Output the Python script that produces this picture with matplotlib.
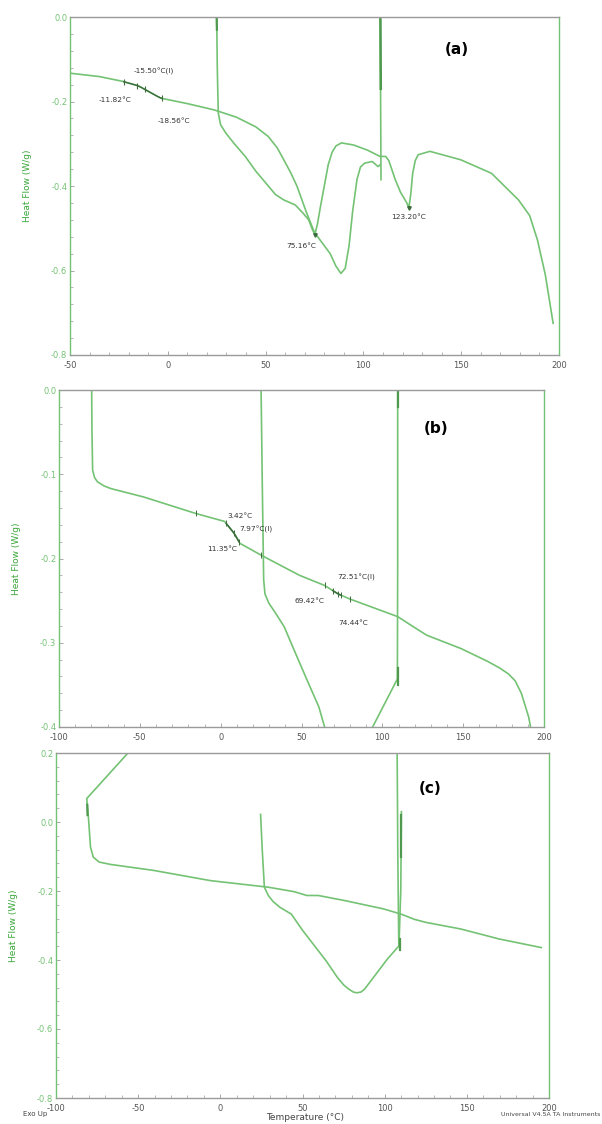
import matplotlib.pyplot as plt
import numpy as np

GREEN = "#74c274"
DARK = "#3d6b3d"
GRAY = "#9a9a9a"

# ---- panel (a) ----
a1_x = [-50, -35, -23.4, -15, -3.7, 10, 23.8, 35, 45, 51.4, 56, 59.3, 63, 66, 71, 75, 79, 83, 86, 88.5, 90.7, 92.7, 94.5, 96.7, 98.5, 100.6, 104.5, 107.5, 108.5]
a1_y = [-0.133, -0.141, -0.152, -0.163, -0.192, -0.205, -0.22, -0.237, -0.26, -0.283, -0.31, -0.338, -0.37, -0.40, -0.464, -0.51, -0.535, -0.56, -0.59, -0.607, -0.595, -0.54, -0.46, -0.385, -0.355, -0.346, -0.342, -0.354, -0.35]
a2_x = [25, 25.3, 25.8, 27, 29.7, 34, 39.6, 45, 51.4, 55, 59.3, 65.2, 69.1, 72, 74, 75.2, 76.5, 78, 80, 82, 84, 86, 88.8, 95, 102, 108.5, 111.4, 113, 116.3, 119, 122.2, 123.2, 124.2, 125.2, 126.5, 128, 134, 149.8, 165.5, 179.3, 185, 189, 193, 197]
a2_y = [0.0, -0.12, -0.227, -0.255, -0.275, -0.30, -0.33, -0.365, -0.40, -0.42, -0.433, -0.445, -0.464, -0.48, -0.504, -0.515, -0.49, -0.45, -0.40, -0.35, -0.32, -0.305, -0.298, -0.303, -0.315, -0.33, -0.33, -0.34, -0.385, -0.415, -0.44, -0.452, -0.42, -0.37, -0.34, -0.326, -0.318, -0.338, -0.37, -0.433, -0.47, -0.528, -0.61, -0.725]
a3_x = [108.6, 108.8, 109.0]
a3_y = [0.0, -0.2, -0.385]
a_marks = [-22.5, -15.5, -11.8, -3]
a_labels = ["-15.50°C(I)", "-11.82°C", "-18.56°C", "75.16°C", "123.20°C"]
a_lab_x = [-7, -27, 3, 68, 123]
a_lab_y = [-0.129, -0.196, -0.247, -0.543, -0.474]

# ---- panel (b) ----
b1_x = [-79.8, -79.6, -79.2, -78, -76.2, -72, -67.9, -47.6, -15.5, 2.4, 8.3, 11.9, 25, 48.8, 64.3, 72.6, 79.8, 109.5, 120, 127.4, 148.8, 165, 172.6, 178, 182.1, 186, 190.5, 191.7]
b1_y = [0.0, -0.05, -0.095, -0.104, -0.109, -0.114, -0.117, -0.127, -0.1465, -0.156, -0.170, -0.182, -0.196, -0.22, -0.232, -0.242, -0.248, -0.269, -0.282, -0.291, -0.307, -0.322, -0.33, -0.337, -0.345, -0.36, -0.388, -0.4]
b2_x = [25, 25.8, 26.6, 27.4, 29.8, 34, 39.3, 46.4, 53.6, 60.7, 64.3]
b2_y = [0.0, -0.12, -0.225, -0.242, -0.253, -0.265, -0.281, -0.313, -0.345, -0.376, -0.4]
b3_x = [109.5, 109.5, 109.3, 94]
b3_y = [0.0, -0.2, -0.343, -0.4]
b_marks = [-15.5, 3.4, 7.97, 11.35, 25, 64.3, 69.4, 72.5, 74.4, 79.8]
b_labels = ["3.42°C", "7.97°C(I)", "11.35°C", "72.51°C(I)", "69.42°C", "74.44°C"]
b_lab_x = [12, 22, 1, 84, 55, 82]
b_lab_y = [-0.149, -0.165, -0.189, -0.223, -0.25, -0.277]

# ---- panel (c) ----
c1_x = [-56.2, -81.3, -80.3, -79, -77.3, -73.8, -66.8, -41, -5.9, 29.2, 45, 52.6, 59.6, 76, 99.4, 110, 118, 125.1, 146.2, 169.6, 195.3]
c1_y = [0.2, 0.068, 0.015, -0.073, -0.102, -0.116, -0.123, -0.140, -0.17, -0.189, -0.202, -0.213, -0.213, -0.228, -0.252, -0.267, -0.282, -0.291, -0.31, -0.339, -0.364]
c2_x = [24.5, 25.5, 26.8, 29.2, 32, 36.2, 43.2, 50.2, 54.9, 64.3, 71.3, 75, 78.3, 81, 83, 85.5, 87.7, 94.7, 101.7, 108.7, 109.8, 110.2]
c2_y = [0.022, -0.08, -0.189, -0.213, -0.23, -0.247, -0.267, -0.315, -0.344, -0.402, -0.451, -0.472, -0.485, -0.493, -0.495, -0.493, -0.485, -0.441, -0.397, -0.359, -0.2, 0.03]
c3_x = [107.6, 108.0, 108.6]
c3_y = [0.2, -0.1, -0.36]

fig = plt.figure(figsize=(6.02, 11.24), dpi=100)
W, H = 602, 1124


def make_ax(l, r, t, b):
    return fig.add_axes([l / W, 1 - b / H, (r - l) / W, (b - t) / H])


def style(ax, xlim, ylim, xt, yt):
    ax.set_xlim(*xlim)
    ax.set_ylim(*ylim)
    ax.set_xticks(xt)
    ax.set_yticks(yt)
    ax.set_xticks(np.arange(xlim[0], xlim[1] + 1, 10), minor=True)
    ax.set_yticks(np.arange(ylim[0], ylim[1] + 0.001, (yt[1] - yt[0]) / 5), minor=True)
    ax.set_xticklabels([f"{v:g}" for v in xt], fontsize=6)
    ax.set_yticklabels([f"{v:.1f}" for v in yt], fontsize=6)
    ax.tick_params(direction="in", length=3, width=0.6, colors=GRAY)
    ax.tick_params(axis="x", pad=4)
    ax.tick_params(axis="y", pad=2)
    ax.tick_params(which="minor", direction="in", length=2, width=0.5, colors=GRAY)
    for lab in ax.get_yticklabels():
        lab.set_color(GREEN)
    for lab in ax.get_xticklabels():
        lab.set_color("#555555")
    ax.spines["top"].set_color(GRAY)
    ax.spines["bottom"].set_color(GRAY)
    ax.spines["left"].set_color(GREEN)
    ax.spines["right"].set_color(GREEN)
    for s in ax.spines.values():
        s.set_linewidth(1.0)
    ax.set_ylabel("Heat Flow (W/g)", fontsize=6.5, color="#3aa63a", labelpad=14)


def curve(ax, x, y):
    ax.plot(x, y, color=GREEN, lw=1.2, solid_joinstyle="round")


# (a)
ax = make_ax(70, 559, 17, 355)
curve(ax, a1_x, a1_y)
curve(ax, a2_x, a2_y)
curve(ax, a3_x, a3_y)
ax.plot([108.7, 108.9], [0.0, -0.17], color="#4f9a4f", lw=1.8)
ax.plot([25, 25.1], [0.0, -0.03], color="#4f9a4f", lw=1.6)
seg = np.linspace(a_marks[0], a_marks[-1], 10)
ax.plot(seg, np.interp(seg, a1_x, a1_y), color=DARK, lw=1.0)
ax.plot(a_marks, np.interp(a_marks, a1_x, a1_y), ls="none", marker="|", ms=5, color=DARK, mew=0.8)
ax.plot([75.2, 123.2], [np.interp(75.2, a2_x, a2_y), -0.452], ls="none", marker="v", ms=2.5, color=DARK)
for t, x, y in zip(a_labels, a_lab_x, a_lab_y):
    ax.text(x, y, t, fontsize=5.3, color="#333333", ha="center", va="center")
ax.text(148, -0.077, "(a)", fontsize=11, fontweight="bold", ha="center", va="center")
style(ax, (-50, 200), (-0.8, 0.0), [-50, 0, 50, 100, 150, 200], [-0.8, -0.6, -0.4, -0.2, 0.0])

# (b)
ax = make_ax(59, 544, 390, 727)
curve(ax, b1_x, b1_y)
curve(ax, b2_x, b2_y)
curve(ax, b3_x, b3_y)
ax.plot([109.5, 109.5], [0.0, -0.02], color="#4f9a4f", lw=1.6)
ax.plot([109.4, 109.4], [-0.33, -0.35], color="#4f9a4f", lw=1.6)
seg = np.linspace(3.4, 11.35, 8)
ax.plot(seg, np.interp(seg, b1_x, b1_y), color=DARK, lw=1.1)
seg = np.linspace(69.4, 74.4, 5)
ax.plot(seg, np.interp(seg, b1_x, b1_y), color=DARK, lw=1.1)
ax.plot(b_marks, np.interp(b_marks, b1_x, b1_y), ls="none", marker="|", ms=4, color=DARK, mew=0.7)
for t, x, y in zip(b_labels, b_lab_x, b_lab_y):
    ax.text(x, y, t, fontsize=5.3, color="#333333", ha="center", va="center")
ax.text(133, -0.046, "(b)", fontsize=11, fontweight="bold", ha="center", va="center")
style(ax, (-100, 200), (-0.4, 0.0), [-100, -50, 0, 50, 100, 150, 200], [-0.4, -0.3, -0.2, -0.1, 0.0])

# (c)
ax = make_ax(56, 549, 753, 1098)
curve(ax, c1_x, c1_y)
curve(ax, c2_x, c2_y)
curve(ax, c3_x, c3_y)
ax.plot([-81.0, -80.8], [0.05, 0.02], color="#4f9a4f", lw=1.6)
ax.plot([110.0, 110.0], [0.02, -0.1], color="#4f9a4f", lw=1.6)
ax.plot([109.6, 109.6], [-0.34, -0.37], color="#4f9a4f", lw=1.6)
ax.text(127.5, 0.097, "(c)", fontsize=11, fontweight="bold", ha="center", va="center")
style(ax, (-100, 200), (-0.8, 0.2), [-100, -50, 0, 50, 100, 150, 200], [-0.8, -0.6, -0.4, -0.2, 0.0, 0.2])

fig.text(35 / W, 1 - 1114 / H, "Exo Up", fontsize=5, color="#444444", ha="center", va="center")
fig.text(305 / W, 1 - 1118 / H, "Temperature (°C)", fontsize=6.5, color="#444444", ha="center", va="center")
fig.text(600 / W, 1 - 1114 / H, "Universal V4.5A TA Instruments", fontsize=4.5, color="#444444", ha="right", va="center")

fig.savefig("out.png", dpi=100, facecolor="white")
